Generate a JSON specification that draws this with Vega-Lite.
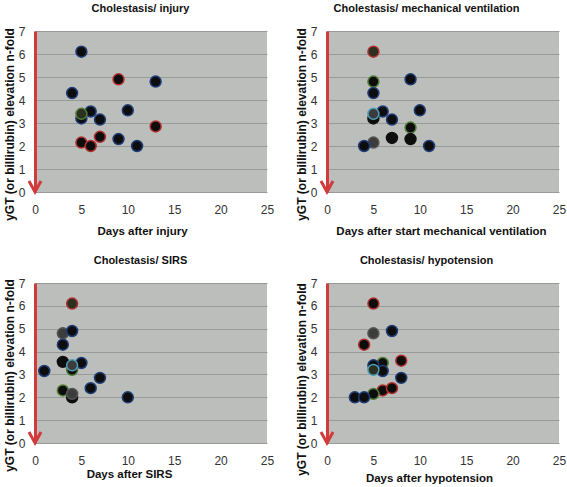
{
  "$schema": "https://vega.github.io/schema/vega-lite/v6.json",
  "background": "white",
  "padding": {"left": 3, "top": 3, "right": 4, "bottom": 4},
  "columns": 2,
  "spacing": {"row": 18, "column": 21},
  "datasets": {
    "injury": [
      {"day": 5, "fold": 6.1, "ring": "blue", "core": "black"},
      {"day": 9, "fold": 4.9, "ring": "red", "core": "black"},
      {"day": 13, "fold": 4.8, "ring": "blue", "core": "black"},
      {"day": 4, "fold": 4.3, "ring": "blue", "core": "black"},
      {"day": 6, "fold": 3.5, "ring": "blue", "core": "black"},
      {"day": 10, "fold": 3.55, "ring": "blue", "core": "black"},
      {"day": 5, "fold": 3.2, "ring": "blue", "core": "black"},
      {"day": 5, "fold": 3.4, "ring": "green", "core": "olive"},
      {"day": 7, "fold": 3.15, "ring": "blue", "core": "black"},
      {"day": 13, "fold": 2.85, "ring": "red", "core": "black"},
      {"day": 7, "fold": 2.4, "ring": "red", "core": "black"},
      {"day": 9, "fold": 2.3, "ring": "blue", "core": "black"},
      {"day": 5, "fold": 2.15, "ring": "red", "core": "black"},
      {"day": 6, "fold": 2.0, "ring": "red", "core": "black"},
      {"day": 11, "fold": 2.0, "ring": "blue", "core": "black"}
    ],
    "mv": [
      {"day": 5, "fold": 6.1, "ring": "red", "core": "olive"},
      {"day": 5, "fold": 4.8, "ring": "green", "core": "black"},
      {"day": 9, "fold": 4.9, "ring": "blue", "core": "black"},
      {"day": 5, "fold": 4.3, "ring": "blue", "core": "black"},
      {"day": 6, "fold": 3.5, "ring": "blue", "core": "black"},
      {"day": 10, "fold": 3.55, "ring": "blue", "core": "black"},
      {"day": 5, "fold": 3.2, "ring": "black", "core": "black"},
      {"day": 5, "fold": 3.4, "ring": "cyan", "core": "grey"},
      {"day": 7, "fold": 3.15, "ring": "blue", "core": "black"},
      {"day": 9, "fold": 2.8, "ring": "green", "core": "black"},
      {"day": 7, "fold": 2.35, "ring": "black", "core": "black"},
      {"day": 9, "fold": 2.3, "ring": "black", "core": "black"},
      {"day": 5, "fold": 2.15, "ring": "grey", "core": "grey"},
      {"day": 4, "fold": 2.0, "ring": "blue", "core": "black"},
      {"day": 11, "fold": 2.0, "ring": "blue", "core": "black"}
    ],
    "sirs": [
      {"day": 4, "fold": 6.1, "ring": "red", "core": "olive"},
      {"day": 3, "fold": 4.8, "ring": "grey", "core": "grey"},
      {"day": 4, "fold": 4.9, "ring": "blue", "core": "black"},
      {"day": 3, "fold": 4.3, "ring": "blue", "core": "black"},
      {"day": 3, "fold": 3.55, "ring": "black", "core": "black"},
      {"day": 5, "fold": 3.5, "ring": "blue", "core": "black"},
      {"day": 4, "fold": 3.2, "ring": "green", "core": "black"},
      {"day": 4, "fold": 3.4, "ring": "cyan", "core": "grey"},
      {"day": 1, "fold": 3.15, "ring": "blue", "core": "black"},
      {"day": 7, "fold": 2.85, "ring": "blue", "core": "black"},
      {"day": 6, "fold": 2.4, "ring": "blue", "core": "black"},
      {"day": 3, "fold": 2.3, "ring": "green", "core": "black"},
      {"day": 4, "fold": 2.0, "ring": "black", "core": "black"},
      {"day": 4, "fold": 2.15, "ring": "grey", "core": "grey"},
      {"day": 10, "fold": 2.0, "ring": "blue", "core": "black"}
    ],
    "hypo": [
      {"day": 5, "fold": 6.1, "ring": "red", "core": "black"},
      {"day": 5, "fold": 4.8, "ring": "grey", "core": "grey"},
      {"day": 7, "fold": 4.9, "ring": "blue", "core": "black"},
      {"day": 4, "fold": 4.3, "ring": "red", "core": "black"},
      {"day": 8, "fold": 3.6, "ring": "red", "core": "black"},
      {"day": 6, "fold": 3.5, "ring": "green", "core": "black"},
      {"day": 6, "fold": 3.15, "ring": "blue", "core": "black"},
      {"day": 5, "fold": 3.4, "ring": "blue", "core": "black"},
      {"day": 5, "fold": 3.2, "ring": "cyan", "core": "olive"},
      {"day": 8, "fold": 2.85, "ring": "blue", "core": "black"},
      {"day": 6, "fold": 2.3, "ring": "red", "core": "black"},
      {"day": 7, "fold": 2.4, "ring": "red", "core": "black"},
      {"day": 5, "fold": 2.15, "ring": "green", "core": "black"},
      {"day": 3, "fold": 2.0, "ring": "blue", "core": "black"},
      {"day": 4, "fold": 2.0, "ring": "blue", "core": "black"}
    ]
  },
  "config": {
    "font": "Liberation Sans",
    "view": {"fill": "#bcbebb", "stroke": null},
    "title": {"fontSize": 11, "fontWeight": "bold", "color": "#111111", "frame": "bounds", "anchor": "middle", "offset": 11},
    "axisX": {"domain": false, "ticks": false, "grid": false, "labelFontSize": 12, "labelColor": "#333333", "labelPadding": 12, "titleFontSize": 11.5, "titleFontWeight": "bold", "titleColor": "#111111", "labelFlush": false, "labelOverlap": false},
    "axisY": {"domainColor": "#d23b3b", "domainWidth": 3, "ticks": false, "grid": true, "gridColor": "#999b98", "gridWidth": 1, "labelFontSize": 12, "labelColor": "#333333", "labelPadding": 10, "titleFontSize": 12, "titleFontWeight": "bold", "titleColor": "#111111", "titlePadding": 2, "labelFlush": false, "labelOverlap": false}
  },
  "concat": [
    {
      "width": 232, "height": 161,
      "title": {"text": "Cholestasis/ injury", "dx": 2},
      "layer": [
        {
          "data": {"name": "injury"},
          "mark": {"type": "point", "filled": true, "size": 120, "strokeWidth": 1.5, "opacity": 1},
          "encoding": {
            "x": {"field": "day", "type": "quantitative", "scale": {"domain": [0, 25], "nice": false}, "axis": {"title": "Days after injury", "titleX": 107, "titlePadding": 10, "values": [0, 5, 10, 15, 20, 25]}},
            "y": {"field": "fold", "type": "quantitative", "scale": {"domain": [0, 7], "nice": false}, "axis": {"title": "yGT (or billirubin) elevation n-fold", "titleY": 93, "values": [0, 1, 2, 3, 4, 5, 6, 7]}},
            "fill": {"field": "core", "type": "nominal", "scale": {"domain": ["black", "grey", "olive"], "range": ["#0d0d0d", "#3c3c3c", "#2b3020"]}, "legend": null},
            "stroke": {"field": "ring", "type": "nominal", "scale": {"domain": ["blue", "red", "green", "cyan", "black", "grey"], "range": ["#1f3d78", "#b03030", "#4f7d34", "#4c9fb8", "#111111", "#555555"]}, "legend": null}
          }
        },
        {
          "data": {"values": [{}]},
          "mark": {"type": "point", "shape": "M -0.55 -1 L 0 0 L 0.55 -1", "filled": false, "stroke": "#d23b3b", "strokeWidth": 3, "size": 480, "opacity": 1},
          "encoding": {
            "x": {"datum": 0, "type": "quantitative", "axis": {"title": "Days after injury", "titleX": 107, "titlePadding": 10, "values": [0, 5, 10, 15, 20, 25]}},
            "y": {"datum": 0, "type": "quantitative", "axis": {"title": "yGT (or billirubin) elevation n-fold", "titleY": 93, "values": [0, 1, 2, 3, 4, 5, 6, 7]}}
          }
        }
      ]
    },
    {
      "width": 232, "height": 161,
      "title": {"text": "Cholestasis/ mechanical ventilation", "dx": -4},
      "layer": [
        {
          "data": {"name": "mv"},
          "mark": {"type": "point", "filled": true, "size": 120, "strokeWidth": 1.5, "opacity": 1},
          "encoding": {
            "x": {"field": "day", "type": "quantitative", "scale": {"domain": [0, 25], "nice": false}, "axis": {"title": "Days after start mechanical ventilation", "titleX": 114, "titlePadding": 10, "values": [0, 5, 10, 15, 20, 25]}},
            "y": {"field": "fold", "type": "quantitative", "scale": {"domain": [0, 7], "nice": false}, "axis": {"title": "yGT (or billirubin) elevation n-fold", "titleY": 93, "values": [0, 1, 2, 3, 4, 5, 6, 7]}},
            "fill": {"field": "core", "type": "nominal", "legend": null},
            "stroke": {"field": "ring", "type": "nominal", "legend": null}
          }
        },
        {
          "data": {"values": [{}]},
          "mark": {"type": "point", "shape": "M -0.55 -1 L 0 0 L 0.55 -1", "filled": false, "stroke": "#d23b3b", "strokeWidth": 3, "size": 480, "opacity": 1},
          "encoding": {
            "x": {"datum": 0, "type": "quantitative", "axis": {"title": "Days after start mechanical ventilation", "titleX": 114, "titlePadding": 10, "values": [0, 5, 10, 15, 20, 25]}},
            "y": {"datum": 0, "type": "quantitative", "axis": {"title": "yGT (or billirubin) elevation n-fold", "titleY": 93, "values": [0, 1, 2, 3, 4, 5, 6, 7]}}
          }
        }
      ]
    },
    {
      "width": 232, "height": 160,
      "title": {"text": "Cholestasis/ SIRS", "dx": 2},
      "layer": [
        {
          "data": {"name": "sirs"},
          "mark": {"type": "point", "filled": true, "size": 120, "strokeWidth": 1.5, "opacity": 1},
          "encoding": {
            "x": {"field": "day", "type": "quantitative", "scale": {"domain": [0, 25], "nice": false}, "axis": {"title": "Days after SIRS", "titleX": 94, "titlePadding": 2, "values": [0, 5, 10, 15, 20, 25]}},
            "y": {"field": "fold", "type": "quantitative", "scale": {"domain": [0, 7], "nice": false}, "axis": {"title": "yGT (or billirubin) elevation n-fold", "titleY": 92, "values": [0, 1, 2, 3, 4, 5, 6, 7]}},
            "fill": {"field": "core", "type": "nominal", "legend": null},
            "stroke": {"field": "ring", "type": "nominal", "legend": null}
          }
        },
        {
          "data": {"values": [{}]},
          "mark": {"type": "point", "shape": "M -0.55 -1 L 0 0 L 0.55 -1", "filled": false, "stroke": "#d23b3b", "strokeWidth": 3, "size": 480, "opacity": 1},
          "encoding": {
            "x": {"datum": 0, "type": "quantitative", "axis": {"title": "Days after SIRS", "titleX": 94, "titlePadding": 2, "values": [0, 5, 10, 15, 20, 25]}},
            "y": {"datum": 0, "type": "quantitative", "axis": {"title": "yGT (or billirubin) elevation n-fold", "titleY": 92, "values": [0, 1, 2, 3, 4, 5, 6, 7]}}
          }
        }
      ]
    },
    {
      "width": 232, "height": 160,
      "title": {"text": "Cholestasis/ hypotension", "dx": -4},
      "layer": [
        {
          "data": {"name": "hypo"},
          "mark": {"type": "point", "filled": true, "size": 120, "strokeWidth": 1.5, "opacity": 1},
          "encoding": {
            "x": {"field": "day", "type": "quantitative", "scale": {"domain": [0, 25], "nice": false}, "axis": {"title": "Days after hypotension", "titleX": 102, "titlePadding": 6, "values": [0, 5, 10, 15, 20, 25]}},
            "y": {"field": "fold", "type": "quantitative", "scale": {"domain": [0, 7], "nice": false}, "axis": {"title": "yGT (or billirubin) elevation n-fold", "titleY": 96, "values": [0, 1, 2, 3, 4, 5, 6, 7]}},
            "fill": {"field": "core", "type": "nominal", "legend": null},
            "stroke": {"field": "ring", "type": "nominal", "legend": null}
          }
        },
        {
          "data": {"values": [{}]},
          "mark": {"type": "point", "shape": "M -0.55 -1 L 0 0 L 0.55 -1", "filled": false, "stroke": "#d23b3b", "strokeWidth": 3, "size": 480, "opacity": 1},
          "encoding": {
            "x": {"datum": 0, "type": "quantitative", "axis": {"title": "Days after hypotension", "titleX": 102, "titlePadding": 6, "values": [0, 5, 10, 15, 20, 25]}},
            "y": {"datum": 0, "type": "quantitative", "axis": {"title": "yGT (or billirubin) elevation n-fold", "titleY": 96, "values": [0, 1, 2, 3, 4, 5, 6, 7]}}
          }
        }
      ]
    }
  ]
}
